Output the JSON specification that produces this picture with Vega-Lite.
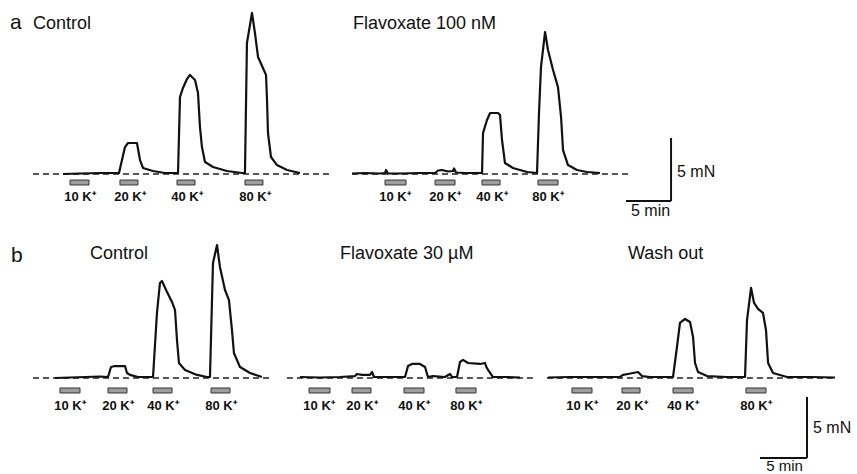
{
"$schema": "https://vega.github.io/schema/vega-lite/v6.json",
"padding": 0,
"background": "white",
"config": {"view": {"stroke": null}, "text": {"font": "Liberation Sans", "color": "#111"}},
"spacing": 0,
"datasets": {
"recordings": [
{"panel":"A1","start":3.67,"end":37.0},
{"panel":"A2","start":1.33,"end":32.22},
{"panel":"B1","start":3.51,"end":28.72},
{"panel":"B2","start":0.74,"end":26.91},
{"panel":"B3","start":0.74,"end":31.38}
],
"stimuli": [
{"panel":"A1","label":"10 K⁺","start":7.78,"end":9.89},
{"panel":"A1","label":"20 K⁺","start":13.33,"end":15.33},
{"panel":"A1","label":"40 K⁺","start":19.67,"end":21.67},
{"panel":"A1","label":"80 K⁺","start":27.22,"end":29.22},
{"panel":"A2","label":"10 K⁺","start":5.0,"end":7.33},
{"panel":"A2","label":"20 K⁺","start":10.56,"end":12.78},
{"panel":"A2","label":"40 K⁺","start":15.78,"end":17.78},
{"panel":"A2","label":"80 K⁺","start":22.0,"end":24.22},
{"panel":"B1","label":"10 K⁺","start":6.38,"end":8.51},
{"panel":"B1","label":"20 K⁺","start":11.49,"end":13.51},
{"panel":"B1","label":"40 K⁺","start":16.28,"end":18.30},
{"panel":"B1","label":"80 K⁺","start":22.45,"end":24.47},
{"panel":"B2","label":"10 K⁺","start":3.09,"end":5.32},
{"panel":"B2","label":"20 K⁺","start":7.66,"end":9.68},
{"panel":"B2","label":"40 K⁺","start":13.19,"end":15.32},
{"panel":"B2","label":"80 K⁺","start":18.72,"end":20.85},
{"panel":"B3","label":"10 K⁺","start":3.40,"end":5.53},
{"panel":"B3","label":"20 K⁺","start":8.72,"end":10.64},
{"panel":"B3","label":"40 K⁺","start":14.15,"end":16.28},
{"panel":"B3","label":"80 K⁺","start":21.91,"end":24.04}
],
"traces": [
{"panel":"A1","t":7.0,"f":0},{"panel":"A1","t":8.89,"f":0.04},{"panel":"A1","t":11.11,"f":0.08},{"panel":"A1","t":12.44,"f":0.08},{"panel":"A1","t":13.22,"f":0.08},{"panel":"A1","t":13.89,"f":2.14},{"panel":"A1","t":14.22,"f":2.46},{"panel":"A1","t":15.22,"f":2.46},{"panel":"A1","t":15.56,"f":1.11},{"panel":"A1","t":15.89,"f":0.48},{"panel":"A1","t":17.0,"f":0.24},{"panel":"A1","t":18.33,"f":0.08},{"panel":"A1","t":19.78,"f":0.08},{"panel":"A1","t":20.0,"f":6.11},{"panel":"A1","t":20.33,"f":6.83},{"panel":"A1","t":20.78,"f":7.54},{"panel":"A1","t":21.11,"f":7.86},{"panel":"A1","t":21.67,"f":7.46},{"panel":"A1","t":22.0,"f":6.43},{"panel":"A1","t":22.22,"f":3.73},{"panel":"A1","t":22.44,"f":2.14},{"panel":"A1","t":22.78,"f":0.95},{"panel":"A1","t":23.67,"f":0.56},{"panel":"A1","t":25.22,"f":0.24},{"panel":"A1","t":26.89,"f":0.08},{"panel":"A1","t":27.22,"f":0.08},{"panel":"A1","t":27.44,"f":10.40},{"panel":"A1","t":28.0,"f":12.78},{"panel":"A1","t":28.33,"f":11.19},{"panel":"A1","t":28.67,"f":9.29},{"panel":"A1","t":29.22,"f":8.41},{"panel":"A1","t":29.56,"f":7.86},{"panel":"A1","t":29.67,"f":5.87},{"panel":"A1","t":29.78,"f":3.25},{"panel":"A1","t":30.11,"f":1.35},{"panel":"A1","t":30.78,"f":0.71},{"panel":"A1","t":31.89,"f":0.32},{"panel":"A1","t":33.33,"f":0.08},
{"panel":"A2","t":1.33,"f":0.04},{"panel":"A2","t":2.78,"f":0.08},{"panel":"A2","t":4.44,"f":0.04},{"panel":"A2","t":5.0,"f":0.08},{"panel":"A2","t":5.11,"f":0.32},{"panel":"A2","t":5.33,"f":0.04},{"panel":"A2","t":6.67,"f":0.04},{"panel":"A2","t":8.89,"f":0.08},{"panel":"A2","t":10.56,"f":0.08},{"panel":"A2","t":10.89,"f":0.28},{"panel":"A2","t":11.33,"f":0.32},{"panel":"A2","t":12.0,"f":0.20},{"panel":"A2","t":12.56,"f":0.24},{"panel":"A2","t":12.67,"f":0.44},{"panel":"A2","t":12.89,"f":0.12},{"panel":"A2","t":13.89,"f":0.08},{"panel":"A2","t":15.78,"f":0.08},{"panel":"A2","t":15.89,"f":3.25},{"panel":"A2","t":16.33,"f":4.29},{"panel":"A2","t":16.67,"f":4.84},{"panel":"A2","t":17.56,"f":4.84},{"panel":"A2","t":17.78,"f":4.68},{"panel":"A2","t":18.0,"f":2.70},{"panel":"A2","t":18.33,"f":0.87},{"panel":"A2","t":19.22,"f":0.48},{"panel":"A2","t":20.78,"f":0.16},{"panel":"A2","t":21.89,"f":0.08},{"panel":"A2","t":22.11,"f":4.84},{"panel":"A2","t":22.33,"f":8.49},{"panel":"A2","t":22.78,"f":11.27},{"panel":"A2","t":23.11,"f":9.84},{"panel":"A2","t":23.67,"f":8.25},{"panel":"A2","t":24.22,"f":6.90},{"panel":"A2","t":24.56,"f":4.52},{"panel":"A2","t":24.78,"f":1.90},{"panel":"A2","t":25.33,"f":0.71},{"panel":"A2","t":26.33,"f":0.32},{"panel":"A2","t":27.44,"f":0.16},{"panel":"A2","t":28.89,"f":0.08},
{"panel":"B1","t":5.85,"f":0},{"panel":"B1","t":7.45,"f":0.04},{"panel":"B1","t":9.04,"f":0.08},{"panel":"B1","t":10.64,"f":0.12},{"panel":"B1","t":11.49,"f":0.08},{"panel":"B1","t":11.81,"f":0.90},{"panel":"B1","t":12.23,"f":0.98},{"panel":"B1","t":13.30,"f":0.98},{"panel":"B1","t":13.51,"f":0.41},{"panel":"B1","t":13.83,"f":0.25},{"panel":"B1","t":14.68,"f":0.08},{"panel":"B1","t":16.28,"f":0.08},{"panel":"B1","t":16.70,"f":5.33},{"panel":"B1","t":17.02,"f":7.79},{"panel":"B1","t":17.23,"f":7.95},{"panel":"B1","t":17.77,"f":7.05},{"panel":"B1","t":18.30,"f":6.23},{"panel":"B1","t":18.62,"f":5.57},{"panel":"B1","t":18.83,"f":3.11},{"panel":"B1","t":19.04,"f":1.23},{"panel":"B1","t":19.68,"f":0.66},{"panel":"B1","t":20.96,"f":0.25},{"panel":"B1","t":22.02,"f":0.08},{"panel":"B1","t":22.34,"f":0.08},{"panel":"B1","t":22.66,"f":9.43},{"panel":"B1","t":23.09,"f":10.90},{"panel":"B1","t":23.40,"f":9.10},{"panel":"B1","t":23.94,"f":7.21},{"panel":"B1","t":24.36,"f":6.39},{"panel":"B1","t":24.68,"f":3.93},{"panel":"B1","t":24.89,"f":2.05},{"panel":"B1","t":25.53,"f":0.90},{"panel":"B1","t":26.60,"f":0.41},{"panel":"B1","t":27.87,"f":0.08},
{"panel":"B2","t":2.13,"f":0.08},{"panel":"B2","t":4.26,"f":0.04},{"panel":"B2","t":6.38,"f":0.08},{"panel":"B2","t":7.98,"f":0.16},{"panel":"B2","t":8.19,"f":0.33},{"panel":"B2","t":8.72,"f":0.25},{"panel":"B2","t":9.57,"f":0.25},{"panel":"B2","t":9.79,"f":0.49},{"panel":"B2","t":10.0,"f":0.08},{"panel":"B2","t":11.70,"f":0.08},{"panel":"B2","t":13.30,"f":0.08},{"panel":"B2","t":13.62,"f":0.98},{"panel":"B2","t":14.04,"f":1.15},{"panel":"B2","t":14.89,"f":1.15},{"panel":"B2","t":15.43,"f":0.90},{"panel":"B2","t":15.74,"f":0.08},{"panel":"B2","t":16.28,"f":0.16},{"panel":"B2","t":17.55,"f":0.08},{"panel":"B2","t":18.09,"f":0.33},{"panel":"B2","t":18.30,"f":0.08},{"panel":"B2","t":18.83,"f":0.08},{"panel":"B2","t":19.15,"f":1.31},{"panel":"B2","t":19.47,"f":1.48},{"panel":"B2","t":20.0,"f":1.23},{"panel":"B2","t":21.28,"f":1.15},{"panel":"B2","t":21.81,"f":1.23},{"panel":"B2","t":21.91,"f":0.98},{"panel":"B2","t":22.13,"f":0.66},{"panel":"B2","t":22.66,"f":0.08},{"panel":"B2","t":23.94,"f":0.08},{"panel":"B2","t":25.53,"f":0.04},
{"panel":"B3","t":0.85,"f":0.04},{"panel":"B3","t":3.19,"f":0.08},{"panel":"B3","t":6.38,"f":0.08},{"panel":"B3","t":8.51,"f":0.08},{"panel":"B3","t":8.83,"f":0.25},{"panel":"B3","t":9.36,"f":0.33},{"panel":"B3","t":10.43,"f":0.49},{"panel":"B3","t":10.85,"f":0.16},{"panel":"B3","t":11.70,"f":0.08},{"panel":"B3","t":14.15,"f":0.08},{"panel":"B3","t":14.57,"f":2.54},{"panel":"B3","t":14.89,"f":4.51},{"panel":"B3","t":15.43,"f":4.84},{"panel":"B3","t":15.96,"f":4.59},{"panel":"B3","t":16.28,"f":3.36},{"panel":"B3","t":16.49,"f":1.23},{"panel":"B3","t":16.81,"f":0.49},{"panel":"B3","t":17.77,"f":0.16},{"panel":"B3","t":19.89,"f":0.08},{"panel":"B3","t":21.81,"f":0.08},{"panel":"B3","t":22.02,"f":4.75},{"panel":"B3","t":22.45,"f":7.38},{"panel":"B3","t":22.77,"f":6.15},{"panel":"B3","t":23.19,"f":5.66},{"panel":"B3","t":23.72,"f":5.33},{"panel":"B3","t":24.04,"f":3.93},{"panel":"B3","t":24.26,"f":1.23},{"panel":"B3","t":24.79,"f":0.41},{"panel":"B3","t":26.28,"f":0.08},{"panel":"B3","t":28.72,"f":0.08},{"panel":"B3","t":31.38,"f":0.04}
]
},
"vconcat": [
{"hconcat": [
{"width": 340, "height": 220, "layer": [
{"data":{"name":"recordings"},"transform":[{"filter":"datum.panel==='A1'"}],"mark":{"type":"rule","strokeDash":[6,4],"strokeWidth":1.5,"color":"#222"},
 "encoding":{"x":{"field":"start","type":"quantitative","scale":{"domain":[0,37.78],"nice":false,"zero":false},"axis":null},"x2":{"field":"end"},"y":{"datum":0,"type":"quantitative","scale":{"domain":[-3.65,13.81],"nice":false,"zero":false},"axis":null}}},
{"data":{"name":"traces"},"transform":[{"filter":"datum.panel==='A1'"}],"mark":{"type":"line","color":"#111","strokeWidth":2.2,"strokeJoin":"round"},
 "encoding":{"x":{"field":"t","type":"quantitative","scale":{"domain":[0,37.78],"nice":false,"zero":false},"axis":null},"y":{"field":"f","type":"quantitative","scale":{"domain":[-3.65,13.81],"nice":false,"zero":false},"axis":null}}},
{"data":{"name":"stimuli"},"transform":[{"filter":"datum.panel==='A1'"}],"mark":{"type":"rect","fill":"#9e9e9e","stroke":"#333","strokeWidth":1},
 "encoding":{"x":{"field":"start","type":"quantitative","scale":{"domain":[0,37.78],"nice":false,"zero":false},"axis":null},"x2":{"field":"end"},"y":{"datum":-0.48,"type":"quantitative","scale":{"domain":[-3.65,13.81],"nice":false,"zero":false},"axis":null},"y2":{"datum":-0.87}}},
{"data":{"name":"stimuli"},"transform":[{"filter":"datum.panel==='A1'"}],"mark":{"type":"text","fontSize":13,"fontWeight":"bold","align":"center","baseline":"alphabetic","dx":10},
 "encoding":{"x":{"field":"start","type":"quantitative","scale":{"domain":[0,37.78],"nice":false,"zero":false},"axis":null},"y":{"datum":-2.14,"type":"quantitative","scale":{"domain":[-3.65,13.81],"nice":false,"zero":false},"axis":null},"text":{"field":"label"}}},
{"data":{"values":[{}]},"mark":{"type":"text","text":"a","fontSize":21,"align":"left","baseline":"alphabetic"},
 "encoding":{"x":{"datum":1.11,"type":"quantitative","scale":{"domain":[0,37.78],"nice":false,"zero":false},"axis":null},"y":{"datum":11.51,"type":"quantitative","scale":{"domain":[-3.65,13.81],"nice":false,"zero":false},"axis":null}}},
{"data":{"values":[{}]},"mark":{"type":"text","text":"Control","fontSize":18,"align":"left","baseline":"alphabetic"},
 "encoding":{"x":{"datum":3.67,"type":"quantitative","scale":{"domain":[0,37.78],"nice":false,"zero":false},"axis":null},"y":{"datum":11.51,"type":"quantitative","scale":{"domain":[-3.65,13.81],"nice":false,"zero":false},"axis":null}}}
]},
{"width": 517, "height": 220, "layer": [
{"data":{"name":"recordings"},"transform":[{"filter":"datum.panel==='A2'"}],"mark":{"type":"rule","strokeDash":[6,4],"strokeWidth":1.5,"color":"#222"},
 "encoding":{"x":{"field":"start","type":"quantitative","scale":{"domain":[0,57.44],"nice":false,"zero":false},"axis":null},"x2":{"field":"end"},"y":{"datum":0,"type":"quantitative","scale":{"domain":[-3.65,13.81],"nice":false,"zero":false},"axis":null}}},
{"data":{"name":"traces"},"transform":[{"filter":"datum.panel==='A2'"}],"mark":{"type":"line","color":"#111","strokeWidth":2.2,"strokeJoin":"round"},
 "encoding":{"x":{"field":"t","type":"quantitative","scale":{"domain":[0,57.44],"nice":false,"zero":false},"axis":null},"y":{"field":"f","type":"quantitative","scale":{"domain":[-3.65,13.81],"nice":false,"zero":false},"axis":null}}},
{"data":{"name":"stimuli"},"transform":[{"filter":"datum.panel==='A2'"}],"mark":{"type":"rect","fill":"#9e9e9e","stroke":"#333","strokeWidth":1},
 "encoding":{"x":{"field":"start","type":"quantitative","scale":{"domain":[0,57.44],"nice":false,"zero":false},"axis":null},"x2":{"field":"end"},"y":{"datum":-0.48,"type":"quantitative","scale":{"domain":[-3.65,13.81],"nice":false,"zero":false},"axis":null},"y2":{"datum":-0.87}}},
{"data":{"name":"stimuli"},"transform":[{"filter":"datum.panel==='A2'"}],"mark":{"type":"text","fontSize":13,"fontWeight":"bold","align":"center","baseline":"alphabetic","dx":10},
 "encoding":{"x":{"field":"start","type":"quantitative","scale":{"domain":[0,57.44],"nice":false,"zero":false},"axis":null},"y":{"datum":-2.14,"type":"quantitative","scale":{"domain":[-3.65,13.81],"nice":false,"zero":false},"axis":null},"text":{"field":"label"}}},
{"data":{"values":[{}]},"mark":{"type":"text","text":"Flavoxate 100 nM","fontSize":18,"align":"left","baseline":"alphabetic"},
 "encoding":{"x":{"datum":1.44,"type":"quantitative","scale":{"domain":[0,57.44],"nice":false,"zero":false},"axis":null},"y":{"datum":11.51,"type":"quantitative","scale":{"domain":[-3.65,13.81],"nice":false,"zero":false},"axis":null}}},
{"data":{"values":[{}]},"mark":{"type":"rule","color":"#111","strokeWidth":2},
 "encoding":{"x":{"datum":36.78,"type":"quantitative","scale":{"domain":[0,57.44],"nice":false,"zero":false},"axis":null},"y":{"datum":-2.14,"type":"quantitative","scale":{"domain":[-3.65,13.81],"nice":false,"zero":false},"axis":null},"y2":{"datum":2.86}}},
{"data":{"values":[{}]},"mark":{"type":"rule","color":"#111","strokeWidth":2},
 "encoding":{"x":{"datum":31.78,"type":"quantitative","scale":{"domain":[0,57.44],"nice":false,"zero":false},"axis":null},"x2":{"datum":36.78},"y":{"datum":-2.14,"type":"quantitative","scale":{"domain":[-3.65,13.81],"nice":false,"zero":false},"axis":null}}},
{"data":{"values":[{}]},"mark":{"type":"text","text":"5 mN","fontSize":16,"align":"left","baseline":"alphabetic"},
 "encoding":{"x":{"datum":37.44,"type":"quantitative","scale":{"domain":[0,57.44],"nice":false,"zero":false},"axis":null},"y":{"datum":-0.24,"type":"quantitative","scale":{"domain":[-3.65,13.81],"nice":false,"zero":false},"axis":null}}},
{"data":{"values":[{}]},"mark":{"type":"text","text":"5 min","fontSize":16,"align":"center","baseline":"alphabetic"},
 "encoding":{"x":{"datum":34.5,"type":"quantitative","scale":{"domain":[0,57.44],"nice":false,"zero":false},"axis":null},"y":{"datum":-3.3,"type":"quantitative","scale":{"domain":[-3.65,13.81],"nice":false,"zero":false},"axis":null}}}
]}
], "spacing": 0, "bounds": "flush"},
{"hconcat": [
{"width": 280, "height": 254, "layer": [
{"data":{"name":"recordings"},"transform":[{"filter":"datum.panel==='B1'"}],"mark":{"type":"rule","strokeDash":[6,4],"strokeWidth":1.5,"color":"#222"},
 "encoding":{"x":{"field":"start","type":"quantitative","scale":{"domain":[0,29.79],"nice":false,"zero":false},"axis":null},"x2":{"field":"end"},"y":{"datum":0,"type":"quantitative","scale":{"domain":[-7.87,12.95],"nice":false,"zero":false},"axis":null}}},
{"data":{"name":"traces"},"transform":[{"filter":"datum.panel==='B1'"}],"mark":{"type":"line","color":"#111","strokeWidth":2.2,"strokeJoin":"round"},
 "encoding":{"x":{"field":"t","type":"quantitative","scale":{"domain":[0,29.79],"nice":false,"zero":false},"axis":null},"y":{"field":"f","type":"quantitative","scale":{"domain":[-7.87,12.95],"nice":false,"zero":false},"axis":null}}},
{"data":{"name":"stimuli"},"transform":[{"filter":"datum.panel==='B1'"}],"mark":{"type":"rect","fill":"#9e9e9e","stroke":"#333","strokeWidth":1},
 "encoding":{"x":{"field":"start","type":"quantitative","scale":{"domain":[0,29.79],"nice":false,"zero":false},"axis":null},"x2":{"field":"end"},"y":{"datum":-0.82,"type":"quantitative","scale":{"domain":[-7.87,12.95],"nice":false,"zero":false},"axis":null},"y2":{"datum":-1.23}}},
{"data":{"name":"stimuli"},"transform":[{"filter":"datum.panel==='B1'"}],"mark":{"type":"text","fontSize":13,"fontWeight":"bold","align":"center","baseline":"alphabetic","dx":10},
 "encoding":{"x":{"field":"start","type":"quantitative","scale":{"domain":[0,29.79],"nice":false,"zero":false},"axis":null},"y":{"datum":-2.62,"type":"quantitative","scale":{"domain":[-7.87,12.95],"nice":false,"zero":false},"axis":null},"text":{"field":"label"}}},
{"data":{"values":[{}]},"mark":{"type":"text","text":"b","fontSize":21,"align":"left","baseline":"alphabetic"},
 "encoding":{"x":{"datum":1.17,"type":"quantitative","scale":{"domain":[0,29.79],"nice":false,"zero":false},"axis":null},"y":{"datum":9.51,"type":"quantitative","scale":{"domain":[-7.87,12.95],"nice":false,"zero":false},"axis":null}}},
{"data":{"values":[{}]},"mark":{"type":"text","text":"Control","fontSize":18,"align":"left","baseline":"alphabetic"},
 "encoding":{"x":{"datum":9.57,"type":"quantitative","scale":{"domain":[0,29.79],"nice":false,"zero":false},"axis":null},"y":{"datum":9.75,"type":"quantitative","scale":{"domain":[-7.87,12.95],"nice":false,"zero":false},"axis":null}}}
]},
{"width": 260, "height": 254, "layer": [
{"data":{"name":"recordings"},"transform":[{"filter":"datum.panel==='B2'"}],"mark":{"type":"rule","strokeDash":[6,4],"strokeWidth":1.5,"color":"#222"},
 "encoding":{"x":{"field":"start","type":"quantitative","scale":{"domain":[0,27.66],"nice":false,"zero":false},"axis":null},"x2":{"field":"end"},"y":{"datum":0,"type":"quantitative","scale":{"domain":[-7.87,12.95],"nice":false,"zero":false},"axis":null}}},
{"data":{"name":"traces"},"transform":[{"filter":"datum.panel==='B2'"}],"mark":{"type":"line","color":"#111","strokeWidth":2.2,"strokeJoin":"round"},
 "encoding":{"x":{"field":"t","type":"quantitative","scale":{"domain":[0,27.66],"nice":false,"zero":false},"axis":null},"y":{"field":"f","type":"quantitative","scale":{"domain":[-7.87,12.95],"nice":false,"zero":false},"axis":null}}},
{"data":{"name":"stimuli"},"transform":[{"filter":"datum.panel==='B2'"}],"mark":{"type":"rect","fill":"#9e9e9e","stroke":"#333","strokeWidth":1},
 "encoding":{"x":{"field":"start","type":"quantitative","scale":{"domain":[0,27.66],"nice":false,"zero":false},"axis":null},"x2":{"field":"end"},"y":{"datum":-0.82,"type":"quantitative","scale":{"domain":[-7.87,12.95],"nice":false,"zero":false},"axis":null},"y2":{"datum":-1.23}}},
{"data":{"name":"stimuli"},"transform":[{"filter":"datum.panel==='B2'"}],"mark":{"type":"text","fontSize":13,"fontWeight":"bold","align":"center","baseline":"alphabetic","dx":10},
 "encoding":{"x":{"field":"start","type":"quantitative","scale":{"domain":[0,27.66],"nice":false,"zero":false},"axis":null},"y":{"datum":-2.62,"type":"quantitative","scale":{"domain":[-7.87,12.95],"nice":false,"zero":false},"axis":null},"text":{"field":"label"}}},
{"data":{"values":[{}]},"mark":{"type":"text","text":"Flavoxate 30 µM","fontSize":18,"align":"left","baseline":"alphabetic"},
 "encoding":{"x":{"datum":6.38,"type":"quantitative","scale":{"domain":[0,27.66],"nice":false,"zero":false},"axis":null},"y":{"datum":9.75,"type":"quantitative","scale":{"domain":[-7.87,12.95],"nice":false,"zero":false},"axis":null}}}
]},
{"width": 317, "height": 254, "layer": [
{"data":{"name":"recordings"},"transform":[{"filter":"datum.panel==='B3'"}],"mark":{"type":"rule","strokeDash":[6,4],"strokeWidth":1.5,"color":"#222"},
 "encoding":{"x":{"field":"start","type":"quantitative","scale":{"domain":[0,33.72],"nice":false,"zero":false},"axis":null},"x2":{"field":"end"},"y":{"datum":0,"type":"quantitative","scale":{"domain":[-7.87,12.95],"nice":false,"zero":false},"axis":null}}},
{"data":{"name":"traces"},"transform":[{"filter":"datum.panel==='B3'"}],"mark":{"type":"line","color":"#111","strokeWidth":2.2,"strokeJoin":"round"},
 "encoding":{"x":{"field":"t","type":"quantitative","scale":{"domain":[0,33.72],"nice":false,"zero":false},"axis":null},"y":{"field":"f","type":"quantitative","scale":{"domain":[-7.87,12.95],"nice":false,"zero":false},"axis":null}}},
{"data":{"name":"stimuli"},"transform":[{"filter":"datum.panel==='B3'"}],"mark":{"type":"rect","fill":"#9e9e9e","stroke":"#333","strokeWidth":1},
 "encoding":{"x":{"field":"start","type":"quantitative","scale":{"domain":[0,33.72],"nice":false,"zero":false},"axis":null},"x2":{"field":"end"},"y":{"datum":-0.82,"type":"quantitative","scale":{"domain":[-7.87,12.95],"nice":false,"zero":false},"axis":null},"y2":{"datum":-1.23}}},
{"data":{"name":"stimuli"},"transform":[{"filter":"datum.panel==='B3'"}],"mark":{"type":"text","fontSize":13,"fontWeight":"bold","align":"center","baseline":"alphabetic","dx":10},
 "encoding":{"x":{"field":"start","type":"quantitative","scale":{"domain":[0,33.72],"nice":false,"zero":false},"axis":null},"y":{"datum":-2.62,"type":"quantitative","scale":{"domain":[-7.87,12.95],"nice":false,"zero":false},"axis":null},"text":{"field":"label"}}},
{"data":{"values":[{}]},"mark":{"type":"text","text":"Wash out","fontSize":18,"align":"left","baseline":"alphabetic"},
 "encoding":{"x":{"datum":9.36,"type":"quantitative","scale":{"domain":[0,33.72],"nice":false,"zero":false},"axis":null},"y":{"datum":9.75,"type":"quantitative","scale":{"domain":[-7.87,12.95],"nice":false,"zero":false},"axis":null}}},
{"data":{"values":[{}]},"mark":{"type":"rule","color":"#111","strokeWidth":2},
 "encoding":{"x":{"datum":28.40,"type":"quantitative","scale":{"domain":[0,33.72],"nice":false,"zero":false},"axis":null},"y":{"datum":-1.56,"type":"quantitative","scale":{"domain":[-7.87,12.95],"nice":false,"zero":false},"axis":null},"y2":{"datum":-6.56}}},
{"data":{"values":[{}]},"mark":{"type":"rule","color":"#111","strokeWidth":2},
 "encoding":{"x":{"datum":23.40,"type":"quantitative","scale":{"domain":[0,33.72],"nice":false,"zero":false},"axis":null},"x2":{"datum":28.40},"y":{"datum":-6.56,"type":"quantitative","scale":{"domain":[-7.87,12.95],"nice":false,"zero":false},"axis":null}}},
{"data":{"values":[{}]},"mark":{"type":"text","text":"5 mN","fontSize":16,"align":"left","baseline":"alphabetic"},
 "encoding":{"x":{"datum":29.04,"type":"quantitative","scale":{"domain":[0,33.72],"nice":false,"zero":false},"axis":null},"y":{"datum":-4.51,"type":"quantitative","scale":{"domain":[-7.87,12.95],"nice":false,"zero":false},"axis":null}}},
{"data":{"values":[{}]},"mark":{"type":"text","text":"5 min","fontSize":15,"align":"center","baseline":"alphabetic"},
 "encoding":{"x":{"datum":26.01,"type":"quantitative","scale":{"domain":[0,33.72],"nice":false,"zero":false},"axis":null},"y":{"datum":-7.62,"type":"quantitative","scale":{"domain":[-7.87,12.95],"nice":false,"zero":false},"axis":null}}}
]}
], "spacing": 0, "bounds": "flush"}
]
}
